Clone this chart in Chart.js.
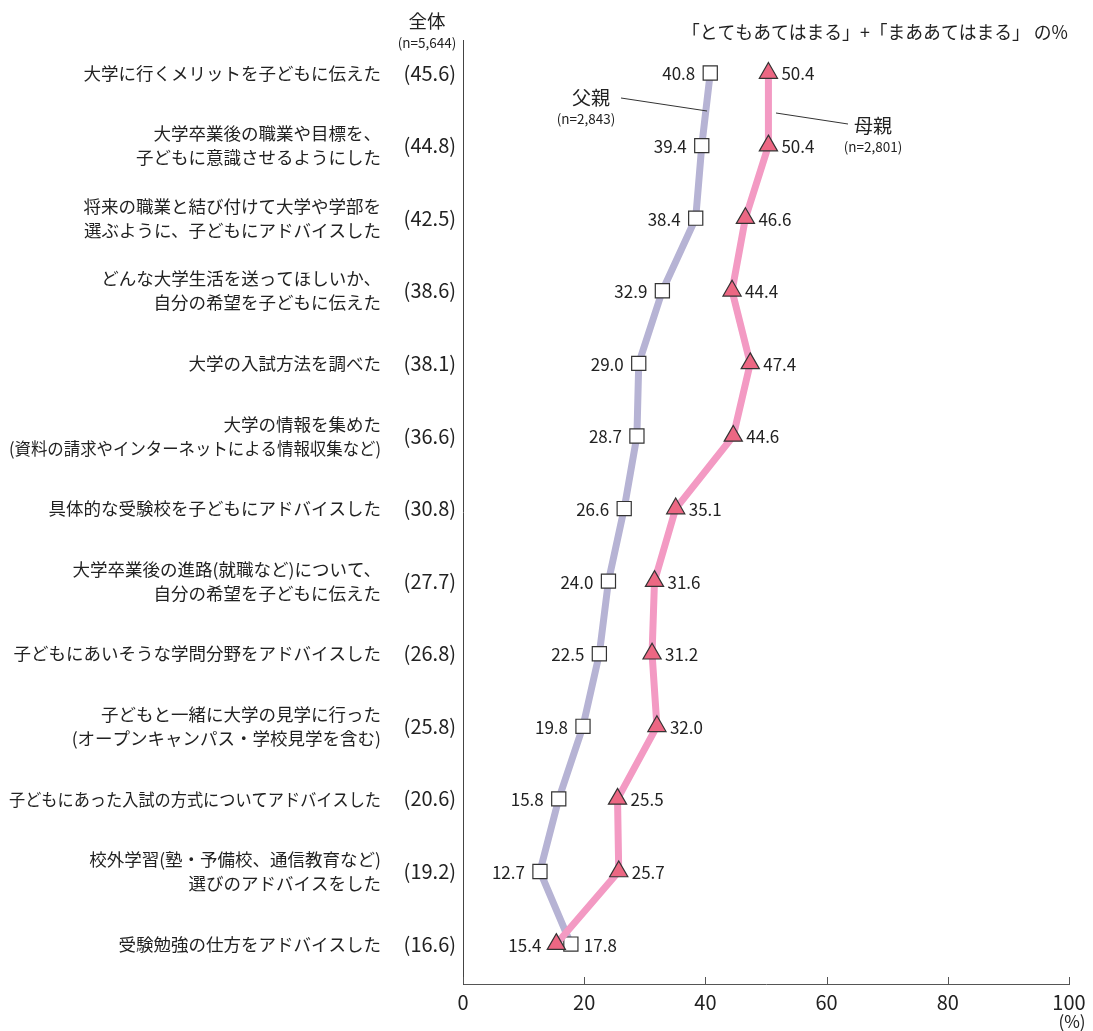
<!DOCTYPE html>
<html lang="ja">
<head>
<meta charset="UTF-8">
<title>大学進学に関する保護者の働きかけ</title>
<script src="https://cdn.jsdelivr.net/npm/chart.js"></script>
<style>
    body {
        margin: 0;
        padding: 0;
        background: #fff;
    }
    .wrap {
        width: 1093px;
        height: 1031px;
        position: relative;
    }
</style>
</head>
<body>
<div class="wrap">
    <canvas id="myChart"></canvas>
</div>
<script>
    var labels = [
        ['大学に行くメリットを子どもに伝えた'],
        ['大学卒業後の職業や目標を、', '子どもに意識させるようにした'],
        ['将来の職業と結び付けて大学や学部を', '選ぶように、子どもにアドバイスした'],
        ['どんな大学生活を送ってほしいか、', '自分の希望を子どもに伝えた'],
        ['大学の入試方法を調べた'],
        ['大学の情報を集めた', '(資料の請求やインターネットによる情報収集など)'],
        ['具体的な受験校を子どもにアドバイスした'],
        ['大学卒業後の進路(就職など)について、', '自分の希望を子どもに伝えた'],
        ['子どもにあいそうな学問分野をアドバイスした'],
        ['子どもと一緒に大学の見学に行った', '(オープンキャンパス・学校見学を含む)'],
        ['子どもにあった入試の方式についてアドバイスした'],
        ['校外学習(塾・予備校、通信教育など)', '選びのアドバイスをした'],
        ['受験勉強の仕方をアドバイスした']
    ];
    var total = [45.6, 44.8, 42.5, 38.6, 38.1, 36.6, 30.8, 27.7, 26.8, 25.8, 20.6, 19.2, 16.6];
    var father = [40.8, 39.4, 38.4, 32.9, 29.0, 28.7, 26.6, 24.0, 22.5, 19.8, 15.8, 12.7, 17.8];
    var mother = [50.4, 50.4, 46.6, 44.4, 47.4, 44.6, 35.1, 31.6, 31.2, 32.0, 25.5, 25.7, 15.4];
    var xTicks = [0, 20, 40, 60, 80, 100];

    var FONT = '"Noto Sans CJK JP", "Noto Sans", sans-serif';
    var TEXT = '#222';

    function toPoints(arr) {
        return arr.map(function(v, i) { return { x: v, y: i }; });
    }

    // category labels, totals and header text
    var sidePlugin = {
        id: 'side',
        afterDraw: function(chart) {
            var ctx = chart.ctx;
            var ys = chart.scales.y;
            var area = chart.chartArea;
            ctx.save();
            ctx.fillStyle = TEXT;
            ctx.textBaseline = 'middle';
            labels.forEach(function(lines, i) {
                var y = ys.getPixelForValue(i);
                ctx.font = '17.5px ' + FONT;
                ctx.textAlign = 'right';
                var lh = 24;
                var start = y - (lines.length - 1) * lh / 2;
                lines.forEach(function(t, k) {
                    var w = ctx.measureText(t).width;
                    if (w > 372) ctx.fillText(t, 381, start + k * lh, 372);
                    else ctx.fillText(t, 381, start + k * lh);
                });
                ctx.font = '20px ' + FONT;
                ctx.fillText('(' + total[i].toFixed(1) + ')', 456, y);
            });

            // header
            ctx.textAlign = 'center';
            ctx.font = '18.5px ' + FONT;
            ctx.fillText('全体', 427, 21);
            ctx.font = '13.5px ' + FONT;
            ctx.fillText('(n=5,644)', 427, 43);
            ctx.textAlign = 'right';
            ctx.font = '18.5px ' + FONT;
            ctx.fillText('「とてもあてはまる」+「まああてはまる」 の%', 1068, 32, 386);

            // series names with leader lines
            ctx.textAlign = 'center';
            ctx.font = '19px ' + FONT;
            ctx.fillText('父親', 591, 98);
            ctx.fillText('母親', 873, 126);
            ctx.font = '13.5px ' + FONT;
            ctx.fillText('(n=2,843)', 586, 119);
            ctx.fillText('(n=2,801)', 873, 147);
            ctx.strokeStyle = '#333';
            ctx.lineWidth = 1;
            ctx.beginPath();
            ctx.moveTo(621, 98);
            ctx.lineTo(707, 111);
            ctx.moveTo(776, 113);
            ctx.lineTo(848, 124);
            ctx.stroke();

            // inner tick marks on x axis
            var xs = chart.scales.x;
            ctx.strokeStyle = '#555';
            ctx.beginPath();
            xTicks.forEach(function(v) {
                var x = Math.round(xs.getPixelForValue(v)) + 0.5;
                ctx.moveTo(x, area.bottom);
                ctx.lineTo(x, area.bottom - 7);
            });
            ctx.stroke();

            ctx.fillStyle = TEXT;
            ctx.font = '17px ' + FONT;
            ctx.textAlign = 'center';
            ctx.fillText('(%)', xs.getPixelForValue(100) + 3, 1022);
            ctx.restore();
        }
    };

    // value labels beside markers
    var valuePlugin = {
        id: 'values',
        afterDatasetsDraw: function(chart) {
            var ctx = chart.ctx;
            ctx.save();
            ctx.font = '17px ' + FONT;
            ctx.fillStyle = TEXT;
            ctx.textBaseline = 'middle';
            chart.data.datasets.forEach(function(ds, di) {
                var meta = chart.getDatasetMeta(di);
                meta.data.forEach(function(pt, i) {
                    var v = ds.data[i].x;
                    var onLeft = ds.label === '父親';
                    if (i === ds.data.length - 1) onLeft = !onLeft;
                    ctx.textAlign = onLeft ? 'right' : 'left';
                    var dx = onLeft ? -15 : 13;
                    ctx.fillText(v.toFixed(1), pt.x + dx, pt.y + 1);
                });
            });
            ctx.restore();
        }
    };

    var ctx = document.getElementById('myChart').getContext('2d');
    var myChart = new Chart(ctx, {
        type: 'line',
        data: {
            datasets: [{
                label: '母親',
                data: toPoints(mother),
                borderColor: '#f39ac3',
                borderWidth: 7,
                borderJoinStyle: 'round',
                pointStyle: 'triangle',
                pointRadius: 10.5,
                pointBackgroundColor: '#ec6783',
                pointBorderColor: '#333',
                pointBorderWidth: 1.2,
                tension: 0
            }, {
                label: '父親',
                data: toPoints(father),
                borderColor: '#b6b3d4',
                borderWidth: 7,
                borderJoinStyle: 'round',
                pointStyle: 'rect',
                pointRadius: 10,
                pointBackgroundColor: '#fff',
                pointBorderColor: '#333',
                pointBorderWidth: 1.2,
                tension: 0
            }]
        },
        options: {
            responsive: true,
            maintainAspectRatio: false,
            animation: false,
            layout: {
                padding: { left: 463, right: 24, top: 40, bottom: 0 }
            },
            plugins: {
                legend: { display: false },
                tooltip: { enabled: false }
            },
            scales: {
                x: {
                    type: 'linear',
                    min: 0,
                    max: 100,
                    afterFit: function(s) { s.height = 47; },
                    afterBuildTicks: function(s) {
                        s.ticks = xTicks.map(function(v) { return { value: v }; });
                    },
                    grid: { display: false },
                    border: { display: true, color: '#555', width: 1 },
                    ticks: {
                        color: TEXT,
                        font: { size: 20, family: FONT },
                        padding: -2
                    }
                },
                y: {
                    type: 'linear',
                    reverse: true,
                    min: -0.455,
                    max: 12.55,
                    afterFit: function(s) { s.width = 0; },
                    grid: { display: false },
                    border: { display: true, color: '#444', width: 1 },
                    ticks: { display: false }
                }
            }
        },
        plugins: [sidePlugin, valuePlugin]
    });
</script>
</body>
</html>
